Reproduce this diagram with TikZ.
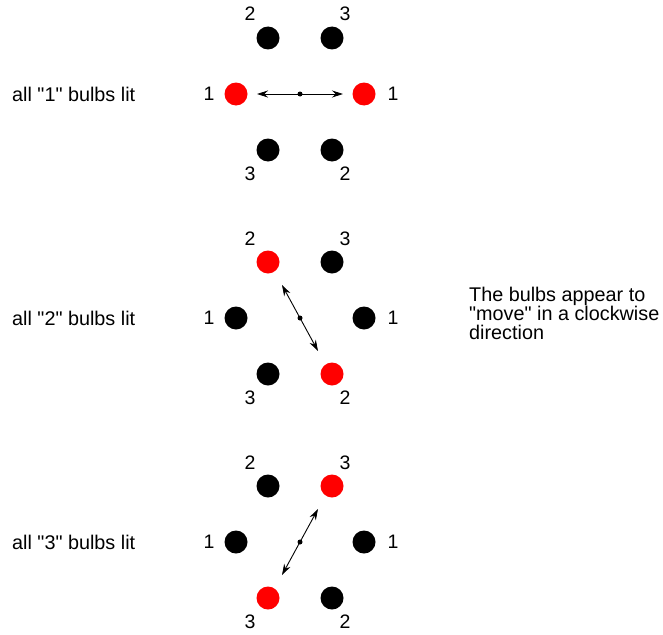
\documentclass[tikz,border=0pt]{standalone}
\usepackage{fontspec}
\setmainfont{Liberation Sans}[Ligatures=TeXOff]
\usetikzlibrary{arrows.meta}
\begin{document}
\begin{tikzpicture}[x=1pt,y=-1pt,
  bulb/.style={circle,fill=black,minimum size=23pt,inner sep=0pt},
  lit/.style={bulb,fill=red},
  num/.style={inner sep=0pt,font=\fontsize{19.5}{19}\selectfont},
  caption/.style={inner sep=0pt,anchor=west,font=\fontsize{19.8}{19}\selectfont},
  pivot/.style={circle,fill=black,minimum size=5pt,inner sep=0pt},
  swing/.style={{Stealth[length=11pt,width=7pt]}-{Stealth[length=11pt,width=7pt]},line width=0.9pt}]
\useasboundingbox (0,0) rectangle (663,634);

% ---------- group 1 ----------
\begin{scope}[yshift=-94pt]
\node[bulb] (a2) at (268,-56) {};
\node[bulb] (a3) at (332,-56) {};
\node[lit]  (a1l) at (236,0) {};
\node[lit]  (a1r) at (364,0) {};
\node[bulb] (a3b) at (268,56) {};
\node[bulb] (a2b) at (332,56) {};
\node[num] (na2) at (250,-80) {2};
\node[num] (na3) at (345,-80) {3};
\node[num] (na1l) at (209,0) {1};
\node[num] (na1r) at (393,0) {1};
\node[num] (na3b) at (250,80) {3};
\node[num] (na2b) at (345,80) {2};
\coordinate (ea1) at (257,0);
\coordinate (ea2) at (343,0);
\node[pivot] (pa) at (300,0) {};
\draw[swing] (ea1) -- (ea2);
\node[caption] (ca) at (12,0) {all "1" bulbs lit};
\end{scope}

% ---------- group 2 ----------
\begin{scope}[yshift=-318pt]
\node[lit]  (b2) at (268,-56) {};
\node[bulb] (b3) at (332,-56) {};
\node[bulb] (b1l) at (236,0) {};
\node[bulb] (b1r) at (364,0) {};
\node[bulb] (b3b) at (268,56) {};
\node[lit]  (b2b) at (332,56) {};
\node[num] (nb2) at (250,-79) {2};
\node[num] (nb3) at (345,-79) {3};
\node[num] (nb1l) at (209,0) {1};
\node[num] (nb1r) at (393,0) {1};
\node[num] (nb3b) at (250,80) {3};
\node[num] (nb2b) at (345,80) {2};
\coordinate (eb1) at (282,-33);
\coordinate (eb2) at (318,33);
\node[pivot] (pb) at (300,0) {};
\draw[swing] (eb1) -- (eb2);
\node[caption] (cb) at (12,0) {all "2" bulbs lit};
\node[inner sep=0pt,anchor=north west,align=left,font=\fontsize{19.8}{19}\selectfont] (note) at (469,-31)
  {The bulbs appear to\\"move" in a clockwise\\direction};
\end{scope}

% ---------- group 3 ----------
\begin{scope}[yshift=-542pt]
\node[bulb] (c2) at (268,-56) {};
\node[lit]  (c3) at (332,-56) {};
\node[bulb] (c1l) at (236,0) {};
\node[bulb] (c1r) at (364,0) {};
\node[lit]  (c3b) at (268,56) {};
\node[bulb] (c2b) at (332,56) {};
\node[num] (nc2) at (250,-79) {2};
\node[num] (nc3) at (345,-79) {3};
\node[num] (nc1l) at (209,0) {1};
\node[num] (nc1r) at (393,0) {1};
\node[num] (nc3b) at (250,80) {3};
\node[num] (nc2b) at (345,80) {2};
\coordinate (ec1) at (318,-33);
\coordinate (ec2) at (282,33);
\node[pivot] (pc) at (300,0) {};
\draw[swing] (ec1) -- (ec2);
\node[caption] (cc) at (12,0) {all "3" bulbs lit};
\end{scope}
\end{tikzpicture}
\end{document}
